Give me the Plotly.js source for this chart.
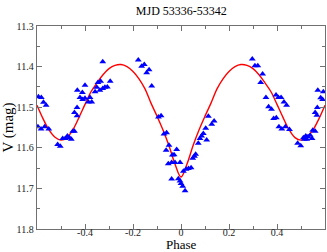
<!DOCTYPE html>
<html>
<head>
<meta charset="utf-8">
<script src="https://cdn.plot.ly/plotly-3.0.1.min.js"></script>
<style>html,body{margin:0;padding:0;background:#fff;}#chart{width:327px;height:252px;}</style>
</head>
<body>
<div id="chart"></div>
<script>
// Observed points (phase, V mag)
const obsPhase = [
  -0.326, -0.594, -0.582, -0.573, -0.562, -0.596, -0.583, -0.568, -0.551, -0.514, -0.503,
  -0.493, -0.482, -0.473, -0.465, -0.457, -0.451, -0.444,
  -0.444, -0.433, -0.433, -0.432, -0.411, -0.400,
  -0.421, -0.410, -0.400, -0.386, -0.379, -0.372,
  -0.358, -0.351, -0.346, -0.335, -0.338, -0.326, -0.317, -0.307, -0.295,
  -0.178, -0.164, -0.153, -0.143, -0.133, -0.122, -0.094, -0.083, -0.071, -0.060,
  -0.050, -0.062, -0.018, -0.036, -0.029, -0.053, -0.039, -0.025, -0.004,
  -0.039, -0.011, -0.004, 0.000, 0.007, 0.017,
  0.010, 0.021, 0.031, 0.042, 0.049, 0.056, 0.061,
  0.072, 0.079, 0.086, 0.093, 0.107, 0.103, 0.114, 0.128, 0.138,
  0.297, 0.308, 0.320, 0.340, 0.332,
  0.354, 0.396, 0.406, 0.417, 0.429, 0.440,
  0.365, 0.377, 0.386, 0.397, 0.408, 0.420, 0.435, 0.452,
  0.486, 0.499, 0.510, 0.520, 0.529, 0.538, 0.546, 0.514, 0.524,
  0.549, 0.559, 0.559, 0.566, 0.568, 0.570, 0.582, 0.590, 0.593
];
const obsMag = [
  11.388, 11.474, 11.476, 11.488, 11.495, 11.548, 11.554, 11.548, 11.554, 11.592, 11.596,
  11.577, 11.577, 11.571, 11.575, 11.579, 11.559, 11.559,
  11.513, 11.521, 11.501, 11.458, 11.464, 11.446,
  11.476, 11.481, 11.478, 11.487, 11.476, 11.487,
  11.462, 11.451, 11.439, 11.436, 11.458, 11.454, 11.451, 11.450, 11.436,
  11.384, 11.399, 11.395, 11.415, 11.408, 11.448, 11.524, 11.521, 11.566, 11.563,
  11.594, 11.606, 11.604, 11.618, 11.617, 11.639, 11.636, 11.636, 11.636,
  11.677, 11.676, 11.682, 11.688, 11.695, 11.706,
  11.658, 11.653, 11.651, 11.649, 11.626, 11.621, 11.616,
  11.589, 11.577, 11.571, 11.565, 11.581, 11.552, 11.522, 11.542, 11.534,
  11.381, 11.398, 11.398, 11.418, 11.439,
  11.476, 11.470, 11.476, 11.476, 11.487, 11.495,
  11.499, 11.505, 11.528, 11.526, 11.548, 11.554, 11.548, 11.555,
  11.589, 11.595, 11.575, 11.571, 11.573, 11.569, 11.577, 11.579, 11.579,
  11.557, 11.559, 11.513, 11.520, 11.501, 11.458, 11.477, 11.481, 11.462
];
// Fitted light curve
const fitPhase = [
  -0.600, -0.575, -0.550, -0.525, -0.500, -0.475, -0.450, -0.425, -0.400, -0.375,
  -0.350, -0.325, -0.300, -0.275, -0.250, -0.225, -0.200, -0.175, -0.150, -0.125,
  -0.100, -0.075, -0.050, -0.025, 0.000, 0.025, 0.050, 0.075, 0.100, 0.125,
  0.150, 0.175, 0.200, 0.225, 0.250, 0.275, 0.300, 0.325, 0.350, 0.375,
  0.400, 0.425, 0.450, 0.475, 0.500, 0.525, 0.550, 0.575, 0.600
];
const fitMag = [
  11.495, 11.528, 11.556, 11.574, 11.581, 11.575, 11.555, 11.525, 11.493, 11.462,
  11.440, 11.420, 11.405, 11.397, 11.395, 11.400, 11.412, 11.430, 11.455, 11.490,
  11.522, 11.556, 11.595, 11.640, 11.672, 11.640, 11.595, 11.556, 11.522, 11.490,
  11.455, 11.430, 11.412, 11.400, 11.395, 11.397, 11.405, 11.420, 11.440, 11.462,
  11.493, 11.525, 11.555, 11.575, 11.581, 11.574, 11.556, 11.528, 11.495
];
const xTickVals = [-0.4, -0.2, 0, 0.2, 0.4];
const xTickText = ['-0.4', '-0.2', '0', '0.2', '0.4'];
const yTickVals = [11.3, 11.4, 11.5, 11.6, 11.7, 11.8];
const yTickText = ['11.3', '11.4', '11.5', '11.6', '11.7', '11.8'];

const serif = '"Liberation Serif", "DejaVu Serif", serif';

const traces = [
  {
    x: fitPhase, y: fitMag, type: 'scatter', mode: 'lines',
    line: {color: '#ff0000', width: 1.4, shape: 'spline', smoothing: 1},
    hoverinfo: 'skip', showlegend: false
  },
  {
    x: obsPhase, y: obsMag, type: 'scatter', mode: 'markers',
    marker: {symbol: 'triangle-up', size: 6, color: '#0000ff', line: {width: 0}},
    showlegend: false
  }
];

const axisCommon = {
  showgrid: false, zeroline: false, showline: true, linecolor: '#707070', linewidth: 1.3,
  mirror: 'ticks', ticks: 'inside', ticklen: 5, tickwidth: 1, tickcolor: '#707070',
  tickfont: {family: serif, size: 10, color: '#222'}
};

const layout = {
  width: 327, height: 252,
  margin: {l: 37, r: 2, t: 26, b: 23},
  paper_bgcolor: '#fff', plot_bgcolor: '#fff',
  showlegend: false,
  title: {text: 'MJD 53336-53342', font: {family: serif, size: 12, color: '#000'},
          x: 0.5545, xanchor: 'center', y: 0.957, yanchor: 'middle'},
  xaxis: Object.assign({}, axisCommon, {
    range: [-0.6, 0.6], tickmode: 'array', tickvals: xTickVals, ticktext: xTickText,
    ticklabelstandoff: -6,
    minor: {dtick: 0.1, ticks: 'inside', ticklen: 3, tickcolor: '#707070'}
  }),
  yaxis: Object.assign({}, axisCommon, {
    range: [11.8, 11.3], tickmode: 'array', tickvals: yTickVals, ticktext: yTickText,
    minor: {dtick: 0.05, ticks: 'inside', ticklen: 3, tickcolor: '#707070'},
    title: {text: 'V (mag)', font: {family: serif, size: 15, color: '#000'}, standoff: 2}
  }),
  annotations: [{
    text: 'Phase', xref: 'paper', yref: 'paper', x: 0.5, y: -0.076,
    xanchor: 'center', yanchor: 'middle', showarrow: false,
    font: {family: serif, size: 13, color: '#000'}
  }]
};

Plotly.newPlot('chart', traces, layout, {displayModeBar: false, staticPlot: true});
</script>
</body>
</html>
